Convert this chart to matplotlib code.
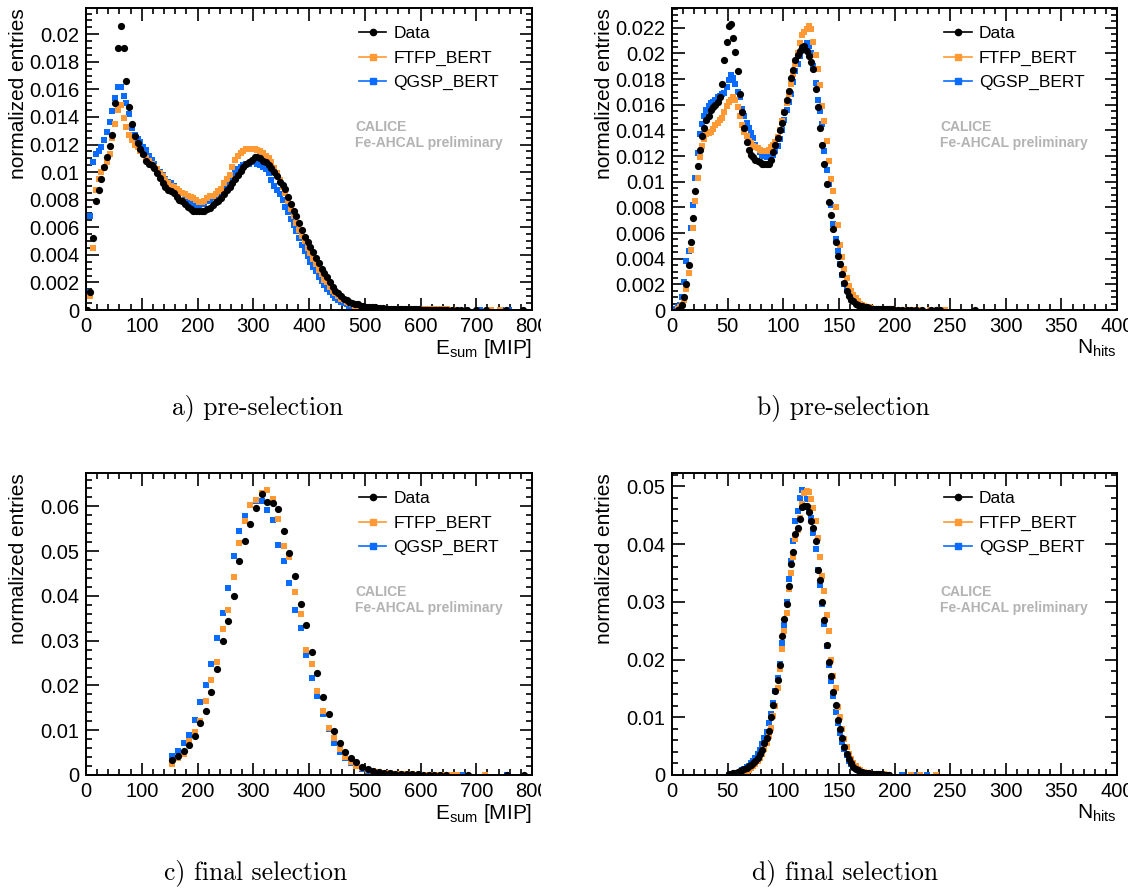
import numpy as np
import matplotlib
matplotlib.use("Agg")
import matplotlib.pyplot as plt
from matplotlib.lines import Line2D
from matplotlib.ticker import MultipleLocator, FuncFormatter
from matplotlib.transforms import Bbox, TransformedBbox

plt.rcParams['font.family'] = ['Liberation Sans', 'DejaVu Sans']
plt.rcParams['mathtext.fontset'] = 'custom'
plt.rcParams['mathtext.rm'] = 'Liberation Sans'
plt.rcParams['mathtext.it'] = 'Liberation Sans:italic'

W, H = 1142, 891
C_DATA = 'black'
C_FTFP = '#ff9933'
C_QGSP = '#0a6cff'

# ---------------- a) E_sum, pre-selection (5 MIP bins) ----------------
esum_pre_bins = np.arange(2.5, 650, 5)
esum_pre_data = [
    0.0, 0.0013, 0.0052, 0.0079, 0.0087, 0.0095, 0.0104, 0.0111, 0.0119, 0.0127,
    0.0150, 0.0190, 0.0206, 0.0190, 0.0166, 0.0147, 0.0135, 0.0126, 0.0121, 0.0117,
    0.0113, 0.0108, 0.0106, 0.0105, 0.0103, 0.0099, 0.0096, 0.0092, 0.0089, 0.0087,
    0.0086, 0.0085, 0.0082, 0.0080, 0.0079, 0.0077, 0.0075, 0.0073, 0.0072, 0.0072,
    0.0072, 0.0072, 0.0072, 0.0073, 0.0074, 0.0076, 0.0078, 0.0079, 0.0081, 0.0084,
    0.0087, 0.0089, 0.0092, 0.0095, 0.0098, 0.0101, 0.0104, 0.0106, 0.0107, 0.0109,
    0.0111, 0.0111, 0.0110, 0.0108, 0.0107, 0.0105, 0.0103, 0.0100, 0.0097, 0.0093,
    0.0091, 0.0088, 0.0082, 0.0077, 0.0072, 0.0068, 0.0063, 0.0058, 0.0053, 0.0049,
    0.0046, 0.0042, 0.0038, 0.0034, 0.0030, 0.0027, 0.0024, 0.0020, 0.0017, 0.0014,
    0.0012, 0.0010, 0.0008, 0.0007, 0.0006, 0.0005, 0.0004, 0.0004, 0.0003, 0.0003,
    0.00025, 0.0002, 0.0002, 0.0002, 0.00018, 0.00015, 0.00012, 0.0001, 0.0001, 0.0001,
    0.00008, 0.00008, 0.00007, 0.00006, 0.00006, 0.00005, 0.00005, 0.00004, 0.00004, 0.00004,
    0.00003, 0.00003, 0.00003, 0.00003, 0.00003, 0.00003, 0.00003, 0.00003, 0.00003, 0.00003,
]
esum_pre_ftfp = [
    0.0, 0.0010, 0.0045, 0.0087, 0.0095, 0.0100, 0.0103, 0.0107, 0.0113, 0.0125,
    0.0135, 0.0145, 0.0149, 0.0139, 0.0133, 0.0127, 0.0123, 0.0120, 0.0118, 0.0115,
    0.0113, 0.0110, 0.0108, 0.0106, 0.0104, 0.0102, 0.0099, 0.0097, 0.0094, 0.0092,
    0.0090, 0.0089, 0.0088, 0.0086, 0.0085, 0.0084, 0.0083, 0.0082, 0.0081, 0.0080,
    0.0078, 0.0078, 0.0079, 0.0081, 0.0083, 0.0083, 0.0084, 0.0086, 0.0088, 0.0092,
    0.0095, 0.0098, 0.0104, 0.0109, 0.0112, 0.0114, 0.0115, 0.0117, 0.0117, 0.0117,
    0.0117, 0.0116, 0.0115, 0.0114, 0.0112, 0.0110, 0.0107, 0.0103, 0.0099, 0.0094,
    0.0089, 0.0085, 0.0079, 0.0073, 0.0068, 0.0063, 0.0058, 0.0054, 0.0050, 0.0045,
    0.0041, 0.0037, 0.0033, 0.0029, 0.0026, 0.0022, 0.0020, 0.0017, 0.0014, 0.0012,
    0.0010, 0.0008, 0.0007, 0.0006, 0.0005, 0.0004, 0.0003, 0.0003, 0.0002, 0.0002,
    0.00015, 0.00015, 0.00015, 0.00015, 0.00015, 0.0001, 0.0001, 0.0001, 0.0001, 0.0001,
    0.00008, 0.00008, 0.00008, 0.00008, 0.00008, 0.00006, 0.00006, 0.00006, 0.00006, 0.00006,
    0.00005, 0.00005, 0.00005, 0.00005, 0.00005, 0.00004, 0.00004, 0.00004, 0.00004, 0.00004,
]
esum_pre_qgsp = [
    0.0013, 0.0068, 0.0107, 0.0113, 0.0115, 0.0118, 0.0123, 0.0129, 0.0136, 0.0144,
    0.0154, 0.0162, 0.0162, 0.0155, 0.0150, 0.0142, 0.0132, 0.0127, 0.0124, 0.0122,
    0.0118, 0.0116, 0.0112, 0.0109, 0.0106, 0.0102, 0.0100, 0.0098, 0.0095, 0.0093,
    0.0092, 0.0090, 0.0088, 0.0086, 0.0085, 0.0080, 0.0078, 0.0077, 0.0077, 0.0076,
    0.0076, 0.0077, 0.0077, 0.0079, 0.0080, 0.0082, 0.0083, 0.0085, 0.0087, 0.0089,
    0.0092, 0.0094, 0.0097, 0.0100, 0.0102, 0.0104, 0.0105, 0.0106, 0.0106, 0.0107,
    0.0107, 0.0106, 0.0105, 0.0104, 0.0102, 0.0099, 0.0094, 0.0090, 0.0087, 0.0084,
    0.0080, 0.0075, 0.0071, 0.0066, 0.0062, 0.0057, 0.0052, 0.0047, 0.0043, 0.0039,
    0.0035, 0.0031, 0.0028, 0.0024, 0.0021, 0.0018, 0.0015, 0.0013, 0.0011, 0.0009,
    0.0007, 0.0006, 0.0005, 0.0004, 0.0003, 0.0003, 0.0002, 0.0002, 0.00015, 0.00012,
    0.0001, 0.0001, 0.0001, 0.0001, 0.0001, 0.00008, 0.00008, 0.00008, 0.00008, 0.00008,
    0.00006, 0.00006, 0.00006, 0.00006, 0.00006, 0.00005, 0.00005, 0.00005, 0.00005, 0.00005,
    0.00004, 0.00004, 0.00004, 0.00004, 0.00004, 0.00003, 0.00003, 0.00003, 0.00003, 0.00003,
]
# isolated entries in the high tail
esum_pre_data_tail = ([657, 665, 672, 684, 699, 717, 753, 783],
                      [0.00002, 0.00002, 0.00002, 0.00002, 0.00002, 0.00002, 0.00002, 0.00002])
esum_pre_ftfp_tail = ([658, 726, 743], [0.00002, 0.00002, 0.00002])
esum_pre_qgsp_tail = ([706, 745, 758], [0.00002, 0.00002, 0.00002])

# ---------------- b) N_hits, pre-selection (2 hit bins) ----------------
nhits_pre_bins = np.arange(1, 200, 2)
nan = np.nan
nhits_pre_data = [
    nan, nan, 0.0, 0.0001, 0.0004, 0.0010, 0.0020, 0.0035, 0.0053, 0.0072,
    0.0093, 0.0112, 0.0125, 0.0136, 0.0142, 0.0148, 0.0151, 0.0156, 0.0158, 0.0160,
    0.0162, 0.0166, 0.0176, 0.0195, 0.0209, 0.0221, 0.0223, 0.0212, 0.0201, 0.0186,
    0.0168, 0.0154, 0.0142, 0.0131, 0.0125, 0.0121, 0.0119, 0.0117, 0.0116, 0.0115,
    0.0114, 0.0114, 0.0114, 0.0114, 0.0117, 0.0123, 0.0129, 0.0134, 0.0140, 0.0146,
    0.0154, 0.0164, 0.0171, 0.0181, 0.0187, 0.0195, 0.0199, 0.0202, 0.0205, 0.0206,
    0.0202, 0.0198, 0.0193, 0.0188, 0.0172, 0.0158, 0.0142, 0.0129, 0.0114, 0.0098,
    0.0084, 0.0074, 0.0063, 0.0053, 0.0042, 0.0036, 0.0028, 0.0021, 0.0015, 0.0011,
    0.0008, 0.0007, 0.0005, 0.0004, 0.0003, 0.0003, 0.0002, 0.0002, 0.00015, 0.0001,
    0.0001, 0.0001, 0.00008, 0.00008, 0.00006, 0.00006, 0.00005, 0.00005, 0.00004, 0.00004,
]
nhits_pre_ftfp = [
    nan, nan, 0.0001, 0.0002, 0.0004, 0.0008, 0.0016, 0.0029, 0.0047, 0.0064,
    0.0085, 0.0103, 0.0119, 0.0128, 0.0133, 0.0137, 0.0138, 0.0139, 0.0141, 0.0144,
    0.0146, 0.0148, 0.0150, 0.0154, 0.0159, 0.0162, 0.0164, 0.0166, 0.0164, 0.0158,
    0.0151, 0.0144, 0.0139, 0.0136, 0.0132, 0.0130, 0.0128, 0.0127, 0.0126, 0.0125,
    0.0124, 0.0124, 0.0124, 0.0125, 0.0127, 0.0129, 0.0131, 0.0135, 0.0140, 0.0147,
    0.0154, 0.0161, 0.0168, 0.0176, 0.0184, 0.0192, 0.0200, 0.0208, 0.0214, 0.0217,
    0.0219, 0.0221, 0.0219, 0.0209, 0.0199, 0.0188, 0.0175, 0.0159, 0.0147, 0.0132,
    0.0116, 0.0102, 0.0093, 0.0080, 0.0066, 0.0051, 0.0041, 0.0032, 0.0025, 0.0019,
    0.0015, 0.0012, 0.0009, 0.0007, 0.0005, 0.0004, 0.0003, 0.0002, 0.0002, 0.00015,
    0.0001, 0.0001, 0.00008, 0.00008, 0.00006, 0.00006, 0.00005, 0.00005, 0.00004, 0.00004,
]
nhits_pre_qgsp = [
    0.0, 0.0001, 0.0002, 0.0004, 0.0010, 0.0022, 0.0038, 0.0046, 0.0064, 0.0082,
    0.0103, 0.0122, 0.0137, 0.0145, 0.0151, 0.0156, 0.0159, 0.0161, 0.0162, 0.0164,
    0.0166, 0.0167, 0.0168, 0.0169, 0.0174, 0.0179, 0.0183, 0.0181, 0.0176, 0.0170,
    0.0166, 0.0157, 0.0151, 0.0146, 0.0142, 0.0138, 0.0134, 0.0129, 0.0126, 0.0123,
    0.0121, 0.0120, 0.0119, 0.0119, 0.0120, 0.0121, 0.0124, 0.0128, 0.0133, 0.0140,
    0.0148, 0.0156, 0.0162, 0.0168, 0.0178, 0.0186, 0.0192, 0.0198, 0.0203, 0.0206,
    0.0208, 0.0206, 0.0200, 0.0190, 0.0177, 0.0164, 0.0155, 0.0145, 0.0124, 0.0109,
    0.0098, 0.0082, 0.0067, 0.0055, 0.0046, 0.0036, 0.0027, 0.0020, 0.0016, 0.0012,
    0.0010, 0.0008, 0.0006, 0.0004, 0.0003, 0.0003, 0.0002, 0.0002, 0.00015, 0.0001,
    0.0001, 0.00008, 0.00008, 0.00006, 0.00006, 0.00005, 0.00005, 0.00004, 0.00004, 0.00003,
]
nhits_pre_data_tail = ([203, 207, 211, 215, 219, 225, 233, 237, 241, 272],
                       [0.00003, 0.00003, 0.00003, 0.00003, 0.00003, 0.00002, 0.00002, 0.00002, 0.00002, 0.00002])
nhits_pre_ftfp_tail = ([203, 207, 211, 215, 219, 224, 232, 239, 245],
                       [0.00003, 0.00003, 0.00003, 0.00003, 0.00003, 0.00002, 0.00002, 0.00002, 0.00002])
nhits_pre_qgsp_tail = ([203, 207, 211, 215, 219], [0.00003, 0.00003, 0.00003, 0.00003, 0.00003])

# ---------------- c) E_sum, final selection (10 MIP bins) ----------------
esum_fin_bins = np.arange(155, 650, 10)
esum_fin_data = [
    0.0034, 0.0042, 0.0054, 0.0066, 0.0087, 0.0116, 0.0142, 0.0186, 0.0236, 0.0300,
    0.0343, 0.0399, 0.0477, 0.0522, 0.0560, 0.0596, 0.0628, 0.0609, 0.0607, 0.0594,
    0.0546, 0.0497, 0.0445, 0.0382, 0.0334, 0.0274, 0.0227, 0.0175, 0.0136, 0.0099,
    0.0072, 0.0052, 0.0037, 0.0028, 0.0017, 0.0013, 0.0010, 0.0007, 0.0005, 0.0004,
    0.0003, 0.0003, 0.0002, 0.0002, 0.0002, 0.0001, 0.0001, 0.0001, 0.0001, 0.0001,
]
esum_fin_ftfp = [
    0.0025, 0.0038, 0.0047, 0.0075, 0.0097, 0.0120, 0.0165, 0.0213, 0.0253, 0.0327,
    0.0369, 0.0443, 0.0519, 0.0568, 0.0603, 0.0615, 0.0630, 0.0636, 0.0616, 0.0571,
    0.0512, 0.0488, 0.0409, 0.0359, 0.0280, 0.0247, 0.0188, 0.0144, 0.0105, 0.0082,
    0.0059, 0.0041, 0.0030, 0.0021, 0.0015, 0.0011, 0.0008, 0.0006, 0.0005, 0.0004,
    0.0003, 0.0002, 0.0002, 0.0002, 0.0001, 0.0001, 0.0001, 0.0001, 0.0001, 0.0001,
]
esum_fin_qgsp = [
    0.0043, 0.0054, 0.0072, 0.0089, 0.0123, 0.0162, 0.0201, 0.0247, 0.0307, 0.0361,
    0.0417, 0.0490, 0.0544, 0.0578, 0.0604, 0.0612, 0.0611, 0.0593, 0.0569, 0.0514,
    0.0477, 0.0430, 0.0369, 0.0329, 0.0267, 0.0216, 0.0177, 0.0136, 0.0102, 0.0071,
    0.0052, 0.0037, 0.0026, 0.0019, 0.0013, 0.0010, 0.0007, 0.0005, 0.0004, 0.0003,
    0.0002, 0.0002, 0.0002, 0.0001, 0.0001, 0.0001, 0.0001, 0.0001, 0.0001, 0.0001,
]
esum_fin_data_tail = ([685, 755, 785], [0.00005, 0.00005, 0.00005])
esum_fin_ftfp_tail = ([655, 665, 715], [0.00005, 0.00005, 0.00005])
esum_fin_qgsp_tail = ([675, 755], [0.00005, 0.00005])

# ---------------- d) N_hits, final selection (2 hit bins) ----------------
nhits_fin_bins = np.arange(51, 197, 2)
nhits_fin_data = [
    0.0001, 0.0002, 0.0003, 0.0004, 0.0005, 0.0007, 0.0009, 0.0010, 0.0012, 0.0015,
    0.0018, 0.0021, 0.0025, 0.0030, 0.0036, 0.0043, 0.0055, 0.0064, 0.0076, 0.0101,
    0.0122, 0.0146, 0.0165, 0.0190, 0.0240, 0.0270, 0.0297, 0.0328, 0.0366, 0.0386,
    0.0418, 0.0428, 0.0443, 0.0465, 0.0466, 0.0466, 0.0455, 0.0440, 0.0428, 0.0405,
    0.0356, 0.0337, 0.0299, 0.0268, 0.0225, 0.0195, 0.0172, 0.0143, 0.0121, 0.0095,
    0.0079, 0.0064, 0.0048, 0.0036, 0.0027, 0.0020, 0.0014, 0.0010, 0.0008, 0.0006,
    0.0005, 0.0004, 0.0003, 0.0003, 0.0002, 0.0002, 0.0001, 0.0001, 0.0001, 0.0001,
    0.00005, 0.00005, 0.00005,
]
nhits_fin_ftfp = [
    nan, nan, 0.0000, 0.0001, 0.0002, 0.0003, 0.0004, 0.0005, 0.0007, 0.0009,
    0.0012, 0.0015, 0.0019, 0.0024, 0.0030, 0.0037, 0.0045, 0.0055, 0.0067, 0.0082,
    0.0102, 0.0120, 0.0150, 0.0183, 0.0218, 0.0250, 0.0280, 0.0322, 0.0350, 0.0378,
    0.0408, 0.0425, 0.0445, 0.0470, 0.0488, 0.0492, 0.0490, 0.0478, 0.0462, 0.0440,
    0.0410, 0.0378, 0.0345, 0.0318, 0.0278, 0.0250, 0.0200, 0.0172, 0.0150, 0.0118,
    0.0100, 0.0080, 0.0063, 0.0048, 0.0036, 0.0027, 0.0020, 0.0015, 0.0011, 0.0008,
    0.0006, 0.0005, 0.0004, 0.0003, 0.0002, 0.0002, 0.0001, 0.0001, 0.0001, 0.0001,
    0.0001, 0.00005, 0.00005,
]
nhits_fin_qgsp = [
    0.0000, 0.0001, 0.0002, 0.0003, 0.0004, 0.0006, 0.0008, 0.0010, 0.0013, 0.0016,
    0.0020, 0.0025, 0.0030, 0.0036, 0.0044, 0.0053, 0.0064, 0.0075, 0.0090, 0.0105,
    0.0125, 0.0145, 0.0168, 0.0193, 0.0228, 0.0260, 0.0300, 0.0340, 0.0370, 0.0405,
    0.0440, 0.0458, 0.0480, 0.0494, 0.0490, 0.0478, 0.0462, 0.0445, 0.0420, 0.0392,
    0.0355, 0.0330, 0.0296, 0.0262, 0.0223, 0.0190, 0.0163, 0.0136, 0.0110, 0.0090,
    0.0073, 0.0058, 0.0045, 0.0034, 0.0025, 0.0019, 0.0014, 0.0010, 0.0008, 0.0006,
    0.0004, 0.0003, 0.0003, 0.0002, 0.0002, 0.0001, 0.0001, 0.0001, 0.0001, 0.0001,
    0.00005, 0.00005, 0.00005,
]
nhits_fin_data_tail = ([], [])
nhits_fin_ftfp_tail = ([215, 223, 237], [0.00003, 0.00003, 0.00003])
nhits_fin_qgsp_tail = ([207, 219, 229], [0.00003, 0.00003, 0.00003])

captions = ['a) pre-selection', 'b) pre-selection', 'c) final selection', 'd) final selection']


def px_axes(x0, y0, x1, y1):
    return [x0 / W, 1 - y1 / H, (x1 - x0) / W, (y1 - y0) / H]


def draw_series(ax, bins, vals, tail, color, marker, ms):
    n = min(len(bins), len(vals))
    x = list(bins[:n]) + list(tail[0])
    y = list(vals[:n]) + list(tail[1])
    ax.plot(x, y, linestyle='none', marker=marker, ms=ms, color=color,
            markeredgewidth=0, zorder=3 if color == C_DATA else 2)


def style_axes(ax, xmax, xmaj, xmin, ymax, ymaj, ymin, xlabel):
    ax.set_xlim(0, xmax)
    ax.set_ylim(0, ymax)
    ax.xaxis.set_major_locator(MultipleLocator(xmaj))
    ax.xaxis.set_minor_locator(MultipleLocator(xmin))
    ax.yaxis.set_major_locator(MultipleLocator(ymaj))
    ax.yaxis.set_minor_locator(MultipleLocator(ymin))
    ax.yaxis.set_major_formatter(FuncFormatter(lambda v, p: '%g' % round(v, 6)))
    ax.tick_params(which='both', direction='in', top=True, right=True,
                   labelsize=14.5, width=1.2)
    ax.tick_params(which='major', length=9, pad=5)
    ax.tick_params(which='minor', length=4.5)
    for s in ax.spines.values():
        s.set_linewidth(1.4)
    ax.set_ylabel('normalized entries', fontsize=15, loc='top')
    ax.yaxis.set_label_coords(-58 / 446, 1.0)
    ax.set_xlabel(xlabel, fontsize=15, loc='right', labelpad=1)

    handles = [
        Line2D([], [], color=C_DATA, marker='o', ms=4.5, lw=1.2),
        Line2D([], [], color=C_FTFP, marker='s', ms=4, lw=1.2),
        Line2D([], [], color=C_QGSP, marker='s', ms=4, lw=1.2),
    ]
    ax.legend(handles, ['Data', 'FTFP_BERT', 'QGSP_BERT'], loc='upper left',
              bbox_to_anchor=(0.592, 0.968), frameon=False, fontsize=12.5,
              handlelength=1.6, handletextpad=0.4, labelspacing=0.53, borderpad=0)
    ax.text(0.603, 0.593, 'CALICE', transform=ax.transAxes, fontsize=10,
            fontweight='bold', color='#b3b3b3')
    ax.text(0.603, 0.54, 'Fe-AHCAL preliminary', transform=ax.transAxes,
            fontsize=10, fontweight='bold', color='#b3b3b3')


fig = plt.figure(figsize=(W / 100, H / 100), dpi=100)

ax_a = fig.add_axes(px_axes(86, 8, 532, 310))
ax_b = fig.add_axes(px_axes(672, 8, 1117, 310))
ax_c = fig.add_axes(px_axes(86, 473, 532, 775))
ax_d = fig.add_axes(px_axes(672, 473, 1117, 775))

panels = [
    (ax_a, esum_pre_bins, esum_pre_data, esum_pre_ftfp, esum_pre_qgsp,
     esum_pre_data_tail, esum_pre_ftfp_tail, esum_pre_qgsp_tail),
    (ax_b, nhits_pre_bins, nhits_pre_data, nhits_pre_ftfp, nhits_pre_qgsp,
     nhits_pre_data_tail, nhits_pre_ftfp_tail, nhits_pre_qgsp_tail),
    (ax_c, esum_fin_bins, esum_fin_data, esum_fin_ftfp, esum_fin_qgsp,
     esum_fin_data_tail, esum_fin_ftfp_tail, esum_fin_qgsp_tail),
    (ax_d, nhits_fin_bins, nhits_fin_data, nhits_fin_ftfp, nhits_fin_qgsp,
     nhits_fin_data_tail, nhits_fin_ftfp_tail, nhits_fin_qgsp_tail),
]
for ax, bins, d, f, q, dt, ft, qt in panels:
    draw_series(ax, bins, q, qt, C_QGSP, 's', 4.8)
    draw_series(ax, bins, f, ft, C_FTFP, 's', 4.8)
    draw_series(ax, bins, d, dt, C_DATA, 'o', 5.2)

esum_label = r'E$_{\mathrm{sum}}$ [MIP]'
nhits_label = r'N$_{\mathrm{hits}}$'
style_axes(ax_a, 800, 100, 20, 0.0219, 0.002, 0.0005, esum_label)
style_axes(ax_b, 400, 50, 10, 0.02354, 0.002, 0.0005, nhits_label)
style_axes(ax_c, 800, 100, 20, 0.06746, 0.01, 0.002, esum_label)
style_axes(ax_d, 400, 50, 10, 0.05232, 0.01, 0.002, nhits_label)

# captions below each panel
cap_pos = [(258, 408), (843, 408), (256, 873), (845, 873)]
for (cx, cy), txt in zip(cap_pos, captions):
    fig.text(cx / W, 1 - cy / H, txt, family='cmr10', fontsize=18.5,
             ha='center', va='center')

# the last x tick label is cut off at the panel edge in the original
fig.canvas.draw()
for ax, cut in [(ax_a, 541), (ax_b, 1128), (ax_c, 541), (ax_d, 1128)]:
    box = TransformedBbox(Bbox.from_extents(0, 0, cut / W, 1), fig.transFigure)
    for lbl in ax.get_xticklabels():
        lbl.set_clip_box(box)
        lbl.set_clip_on(True)

fig.savefig('out.png', dpi=100)
